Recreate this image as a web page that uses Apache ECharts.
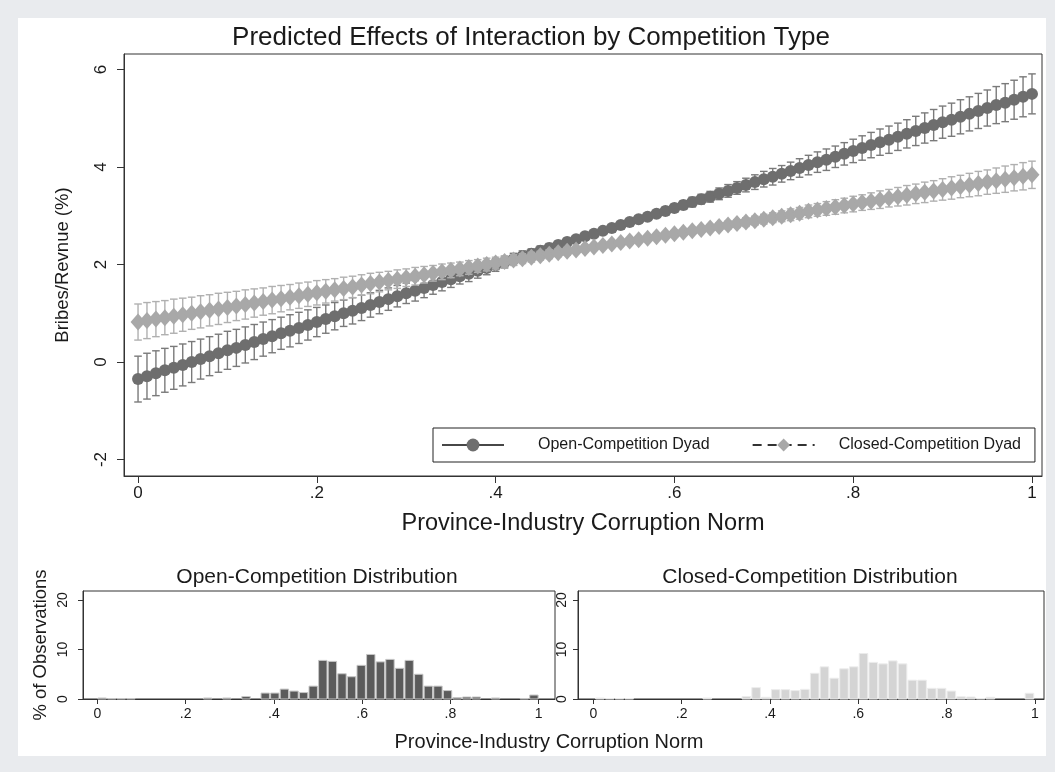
<!DOCTYPE html>
<html>
<head>
<meta charset="utf-8">
<script src="https://cdn.jsdelivr.net/npm/echarts@6/dist/echarts.min.js"></script>
<style>
html,body{margin:0;padding:0;background:#e9ebee;}
#chart{width:1055px;height:772px;}
</style>
</head>
<body>
<div id="chart"></div>
<script>
// Corruption-norm grid at which the predictions were evaluated
const normGrid = [
  0.00,0.01,0.02,0.03,0.04,0.05,0.06,0.07,0.08,0.09,
  0.10,0.11,0.12,0.13,0.14,0.15,0.16,0.17,0.18,0.19,
  0.20,0.21,0.22,0.23,0.24,0.25,0.26,0.27,0.28,0.29,
  0.30,0.31,0.32,0.33,0.34,0.35,0.36,0.37,0.38,0.39,
  0.40,0.41,0.42,0.43,0.44,0.45,0.46,0.47,0.48,0.49,
  0.50,0.51,0.52,0.53,0.54,0.55,0.56,0.57,0.58,0.59,
  0.60,0.61,0.62,0.63,0.64,0.65,0.66,0.67,0.68,0.69,
  0.70,0.71,0.72,0.73,0.74,0.75,0.76,0.77,0.78,0.79,
  0.80,0.81,0.82,0.83,0.84,0.85,0.86,0.87,0.88,0.89,
  0.90,0.91,0.92,0.93,0.94,0.95,0.96,0.97,0.98,0.99,
  1.00
];

// Predicted bribes/revenue (%), open competition, with 95% CI half-widths
const openMean = [
  -0.35,-0.29,-0.23,-0.17,-0.12,-0.06,0.00,0.06,0.12,0.18,
  0.24,0.29,0.35,0.41,0.47,0.53,0.59,0.64,0.70,0.76,
  0.82,0.88,0.94,1.00,1.05,1.11,1.17,1.23,1.29,1.35,
  1.41,1.46,1.52,1.58,1.64,1.70,1.76,1.81,1.87,1.93,
  1.99,2.05,2.11,2.17,2.22,2.28,2.34,2.40,2.46,2.52,
  2.58,2.63,2.69,2.75,2.81,2.87,2.93,2.98,3.04,3.10,
  3.16,3.22,3.28,3.34,3.39,3.45,3.51,3.57,3.63,3.69,
  3.75,3.80,3.86,3.92,3.98,4.04,4.10,4.15,4.21,4.27,
  4.33,4.39,4.45,4.51,4.56,4.62,4.68,4.74,4.80,4.86,
  4.92,4.97,5.03,5.09,5.15,5.21,5.27,5.32,5.38,5.44,
  5.50
];
const openHalf = [
  0.47,0.47,0.46,0.45,0.44,0.43,0.42,0.41,0.40,0.39,
  0.39,0.38,0.37,0.36,0.35,0.34,0.33,0.33,0.32,0.31,
  0.30,0.29,0.28,0.27,0.27,0.26,0.25,0.24,0.23,0.22,
  0.21,0.21,0.20,0.19,0.18,0.17,0.16,0.16,0.15,0.14,
  0.13,0.12,0.12,0.11,0.10,0.10,0.09,0.08,0.08,0.07,
  0.07,0.06,0.06,0.06,0.06,0.06,0.06,0.07,0.07,0.08,
  0.08,0.09,0.10,0.10,0.11,0.12,0.13,0.13,0.14,0.15,
  0.16,0.17,0.17,0.18,0.19,0.20,0.21,0.22,0.22,0.23,
  0.24,0.25,0.26,0.27,0.28,0.28,0.29,0.30,0.31,0.32,
  0.33,0.34,0.35,0.35,0.36,0.37,0.38,0.39,0.40,0.41,
  0.41
];

// Predicted bribes/revenue (%), closed competition, with 95% CI half-widths
const closedMean = [
  0.82,0.85,0.88,0.91,0.94,0.97,1.00,1.03,1.06,1.09,
  1.12,1.15,1.18,1.21,1.24,1.27,1.30,1.33,1.36,1.39,
  1.42,1.45,1.48,1.51,1.54,1.58,1.61,1.64,1.67,1.70,
  1.73,1.76,1.79,1.82,1.85,1.88,1.91,1.94,1.97,2.00,
  2.03,2.06,2.09,2.12,2.15,2.18,2.21,2.24,2.27,2.30,
  2.33,2.36,2.39,2.42,2.45,2.48,2.51,2.54,2.57,2.60,
  2.63,2.66,2.69,2.72,2.75,2.78,2.81,2.84,2.87,2.90,
  2.93,2.96,2.99,3.02,3.05,3.09,3.12,3.15,3.18,3.21,
  3.24,3.27,3.30,3.33,3.36,3.39,3.42,3.45,3.48,3.51,
  3.54,3.57,3.60,3.63,3.66,3.69,3.72,3.75,3.78,3.81,
  3.84
];
const closedHalf = [
  0.37,0.37,0.36,0.35,0.35,0.34,0.33,0.33,0.32,0.32,
  0.31,0.30,0.30,0.29,0.28,0.28,0.27,0.26,0.26,0.25,
  0.25,0.24,0.23,0.23,0.22,0.21,0.21,0.20,0.19,0.19,
  0.18,0.18,0.17,0.16,0.16,0.15,0.14,0.14,0.13,0.13,
  0.12,0.11,0.11,0.10,0.10,0.09,0.09,0.08,0.08,0.07,
  0.07,0.06,0.06,0.06,0.05,0.05,0.05,0.05,0.05,0.05,
  0.05,0.06,0.06,0.06,0.07,0.07,0.08,0.08,0.09,0.09,
  0.10,0.10,0.11,0.12,0.12,0.13,0.13,0.14,0.15,0.15,
  0.16,0.16,0.17,0.18,0.18,0.19,0.20,0.20,0.21,0.21,
  0.22,0.23,0.23,0.24,0.25,0.25,0.26,0.27,0.27,0.28,
  0.28
];

// Histograms of the corruption norm (% of observations per bin)
const openBinStart = 0;
const openBinWidth = 1 / 46;
const openPct = [
  0.2,0.1,0.1,0.1,0,0,0,0,0,0,
  0,0.2,0,0.2,0,0.5,0,1.2,1.2,2.0,
  1.6,1.3,2.6,7.8,7.6,5.1,4.5,6.8,9.0,7.5,
  8.0,6.2,7.8,5.0,2.6,2.6,1.7,0.3,0.4,0.4,
  0,0.2,0,0,0.1,0.8
];
const closedBinStart = 0.004;
const closedBinWidth = 0.0221;
const closedPct = [
  0.2,0.1,0.1,0.1,0,0,0,0,0,0,
  0,0.2,0,0,0,0.5,2.3,0.35,1.9,1.9,
  1.7,1.95,5.2,6.5,4.2,6.1,6.5,9.2,7.4,7.1,
  7.7,7.1,3.8,3.8,2.15,2.15,1.6,0.45,0.4,0.1,
  0.35,0,0,0,1.15
];

// Tick values and their labels
const normTicks = [0, 0.2, 0.4, 0.6, 0.8, 1];
const normTickLabels = ['0', '.2', '.4', '.6', '.8', '1'];
const effectTicks = [-2, 0, 2, 4, 6];
const pctTicks = [0, 10, 20];

const FONT = '"Liberation Sans", Arial, Helvetica, sans-serif';
const INK = '#1a1a1a';
const AXIS = '#333333';

const normLabel = v => {
  const i = normTicks.indexOf(v);
  return i >= 0 ? normTickLabels[i] : '';
};

function ciSeriesData(mean, half) {
  return normGrid.map((x, i) => [x, mean[i] - half[i], mean[i] + half[i]]);
}
function lineData(mean) {
  return normGrid.map((x, i) => [x, mean[i]]);
}
function binData(start, width, pct) {
  return pct.map((p, k) => [start + k * width, start + (k + 1) * width, p]);
}

function capRenderer(color) {
  return function (params, api) {
    const x = api.value(0);
    const lo = api.coord([x, api.value(1)]);
    const hi = api.coord([x, api.value(2)]);
    const w = 3.8;
    const st = { stroke: color, lineWidth: 1.4 };
    return {
      type: 'group',
      children: [
        { type: 'line', shape: { x1: lo[0], y1: lo[1], x2: hi[0], y2: hi[1] }, style: st },
        { type: 'line', shape: { x1: lo[0] - w, y1: lo[1], x2: lo[0] + w, y2: lo[1] }, style: st },
        { type: 'line', shape: { x1: hi[0] - w, y1: hi[1], x2: hi[0] + w, y2: hi[1] }, style: st }
      ]
    };
  };
}

function barRenderer(fill, stroke) {
  return function (params, api) {
    const h = api.value(2);
    if (!(h > 0)) return null;
    const tl = api.coord([api.value(0), h]);
    const br = api.coord([api.value(1), 0]);
    return {
      type: 'rect',
      shape: { x: tl[0] + 0.6, y: tl[1], width: br[0] - tl[0] - 1.2, height: br[1] - tl[1] },
      style: { fill: fill, stroke: stroke, lineWidth: 1 }
    };
  };
}

function normXAxis(gridIndex, min, max, fontSize, margin, tickLen, name) {
  return {
    type: 'value', gridIndex: gridIndex, min: min, max: max,
    axisLine: { show: true, onZero: false, lineStyle: { color: AXIS, width: 1 } },
    axisTick: { show: true, customValues: normTicks, length: tickLen, lineStyle: { color: AXIS } },
    axisLabel: { customValues: normTicks, formatter: normLabel, fontSize: fontSize, margin: margin, color: INK, fontFamily: FONT },
    splitLine: { show: false },
    name: name || '',
    nameLocation: 'middle', nameGap: 36,
    nameTextStyle: { fontSize: 23.5, color: INK, fontFamily: FONT }
  };
}

function pctYAxis(gridIndex, margin, name) {
  return {
    type: 'value', gridIndex: gridIndex, min: 0, max: 21.82,
    axisLine: { show: true, onZero: false, lineStyle: { color: AXIS, width: 1 } },
    axisTick: { show: true, customValues: pctTicks, length: 5, lineStyle: { color: AXIS } },
    axisLabel: { customValues: pctTicks, rotate: 90, fontSize: 14, margin: margin, color: INK, fontFamily: FONT },
    splitLine: { show: false },
    name: name || '',
    nameLocation: 'middle', nameGap: 33,
    nameTextStyle: { fontSize: 18.5, color: INK, fontFamily: FONT }
  };
}

const chart = echarts.init(document.getElementById('chart'), null, { renderer: 'canvas' });

chart.setOption({
  animation: false,
  backgroundColor: '#e9ebee',
  textStyle: { fontFamily: FONT, color: INK },
  graphic: [
    { type: 'rect', z: -10, shape: { x: 18, y: 18, width: 1028, height: 738 }, style: { fill: '#ffffff' } },
    { type: 'text', x: 531, y: 38, style: { text: 'Predicted Effects of Interaction by Competition Type', fontSize: 26, fontFamily: FONT, fill: INK, align: 'center', verticalAlign: 'middle' } },
    { type: 'text', x: 317, y: 577, style: { text: 'Open-Competition Distribution', fontSize: 21, fontFamily: FONT, fill: INK, align: 'center', verticalAlign: 'middle' } },
    { type: 'text', x: 810, y: 577, style: { text: 'Closed-Competition Distribution', fontSize: 21, fontFamily: FONT, fill: INK, align: 'center', verticalAlign: 'middle' } },
    { type: 'text', x: 549, y: 742, style: { text: 'Province-Industry Corruption Norm', fontSize: 20, fontFamily: FONT, fill: INK, align: 'center', verticalAlign: 'middle' } }
  ],
  grid: [
    { left: 124, top: 54, width: 918, height: 422, show: true, borderColor: AXIS, borderWidth: 1, backgroundColor: '#ffffff' },
    { left: 83, top: 591, width: 472, height: 108, show: true, borderColor: AXIS, borderWidth: 1, backgroundColor: '#ffffff' },
    { left: 578, top: 591, width: 466, height: 108, show: true, borderColor: AXIS, borderWidth: 1, backgroundColor: '#ffffff' }
  ],
  xAxis: [
    normXAxis(0, -0.0157, 1.0112, 17, 9, 7, 'Province-Industry Corruption Norm'),
    normXAxis(1, -0.0324, 1.0369, 14, 8, 5),
    normXAxis(2, -0.0346, 1.0204, 14, 8, 5)
  ],
  yAxis: [
    {
      type: 'value', gridIndex: 0, min: -2.338, max: 6.318,
      axisLine: { show: true, onZero: false, lineStyle: { color: AXIS, width: 1 } },
      axisTick: { show: true, customValues: effectTicks, length: 7, lineStyle: { color: AXIS } },
      axisLabel: { customValues: effectTicks, rotate: 90, fontSize: 17, margin: 14, color: INK, fontFamily: FONT },
      splitLine: { show: false },
      name: 'Bribes/Revnue (%)', nameLocation: 'middle', nameGap: 52,
      nameTextStyle: { fontSize: 18.5, color: INK, fontFamily: FONT }
    },
    pctYAxis(1, 13, '% of Observations'),
    pctYAxis(2, 9)
  ],
  legend: {
    left: 433, top: 428,
    orient: 'horizontal',
    padding: [9, 14, 9, 8],
    itemGap: 42, itemWidth: 62, itemHeight: 16,
    borderColor: '#222', borderWidth: 1, backgroundColor: '#ffffff',
    textStyle: { fontSize: 16, color: INK, fontFamily: FONT },
    data: [
      { name: 'Open-Competition Dyad', textStyle: { padding: [0, 0, 0, 29] } },
      { name: 'Closed-Competition Dyad', textStyle: { padding: [0, 0, 0, 19] } }
    ]
  },
  series: [
    {
      name: 'Open CI', type: 'custom', xAxisIndex: 0, yAxisIndex: 0,
      renderItem: capRenderer('#7a7a7a'), encode: { x: 0, y: [1, 2] },
      data: ciSeriesData(openMean, openHalf), z: 2
    },
    {
      name: 'Open-Competition Dyad', type: 'line', xAxisIndex: 0, yAxisIndex: 0,
      data: lineData(openMean), symbol: 'circle', symbolSize: 12, showAllSymbol: true,
      itemStyle: { color: '#6e6e6e' }, lineStyle: { color: '#474747', width: 1.2, type: 'solid' },
      z: 3
    },
    {
      name: 'Closed CI', type: 'custom', xAxisIndex: 0, yAxisIndex: 0,
      renderItem: capRenderer('#b0b0b0'), encode: { x: 0, y: [1, 2] },
      data: ciSeriesData(closedMean, closedHalf), z: 4
    },
    {
      name: 'Closed-Competition Dyad', type: 'line', xAxisIndex: 0, yAxisIndex: 0,
      data: lineData(closedMean), symbol: 'diamond', symbolSize: [15, 17], showAllSymbol: true,
      itemStyle: { color: '#a8a8a8' }, lineStyle: { color: '#333333', width: 1.2, type: [9, 6] },
      z: 5
    },
    {
      name: 'Open histogram', type: 'custom', xAxisIndex: 1, yAxisIndex: 1,
      renderItem: barRenderer('#5b5b5b', '#c6c6c6'), encode: { x: [0, 1], y: 2 },
      data: binData(openBinStart, openBinWidth, openPct)
    },
    {
      name: 'Closed histogram', type: 'custom', xAxisIndex: 2, yAxisIndex: 2,
      renderItem: barRenderer('#d4d4d4', '#ececec'), encode: { x: [0, 1], y: 2 },
      data: binData(closedBinStart, closedBinWidth, closedPct)
    }
  ]
});
</script>
</body>
</html>
